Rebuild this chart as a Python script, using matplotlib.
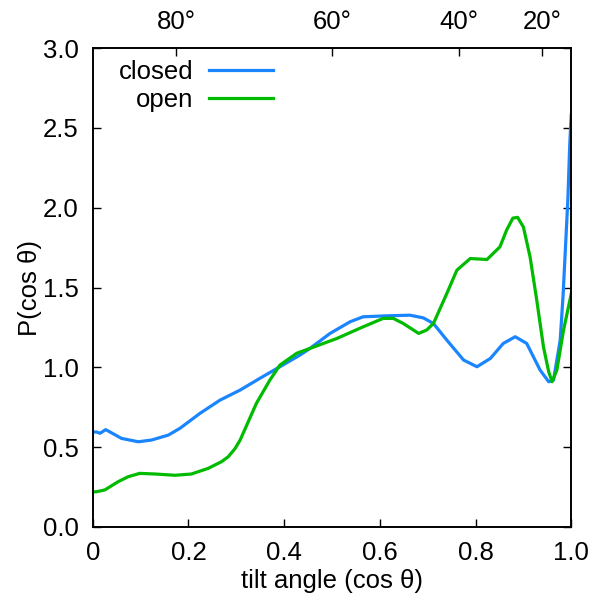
import numpy as np
import matplotlib.pyplot as plt

plt.rcParams['font.family'] = ['Liberation Sans', 'DejaVu Sans']

# closed state
x_closed = [0.0, 0.008, 0.015, 0.027, 0.039, 0.06, 0.095, 0.123, 0.158, 0.182,
            0.224, 0.266, 0.308, 0.349, 0.391, 0.433, 0.454, 0.496, 0.538, 0.565,
            0.614, 0.663, 0.691, 0.712, 0.74, 0.775, 0.803, 0.831, 0.858, 0.883,
            0.907, 0.935, 0.953, 0.963, 0.977, 0.983, 0.988, 0.993, 0.997, 1.0]
y_closed = [0.595, 0.595, 0.587, 0.61, 0.59, 0.555, 0.534, 0.545, 0.576, 0.618,
            0.712, 0.795, 0.858, 0.931, 1.004, 1.077, 1.119, 1.213, 1.286, 1.317,
            1.323, 1.327, 1.31, 1.275, 1.171, 1.046, 1.004, 1.056, 1.15, 1.192,
            1.15, 0.983, 0.91, 0.92, 1.17, 1.45, 1.75, 2.05, 2.4, 2.58]

# open state
x_open = [0.0, 0.008, 0.025, 0.053, 0.074, 0.098, 0.13, 0.172, 0.206, 0.241,
          0.269, 0.283, 0.297, 0.308, 0.325, 0.342, 0.37, 0.391, 0.426, 0.454,
          0.51, 0.565, 0.607, 0.628, 0.649, 0.681, 0.698, 0.712, 0.74, 0.761,
          0.789, 0.824, 0.851, 0.865, 0.878, 0.888, 0.9, 0.914, 0.928, 0.942,
          0.953, 0.96, 0.97, 0.984, 1.0]
y_open = [0.22, 0.221, 0.232, 0.284, 0.315, 0.336, 0.332, 0.324, 0.332, 0.367,
          0.409, 0.44, 0.49, 0.545, 0.66, 0.775, 0.92, 1.014, 1.088, 1.119,
          1.181, 1.254, 1.307, 1.307, 1.275, 1.213, 1.234, 1.275, 1.463, 1.609,
          1.682, 1.676, 1.755, 1.86, 1.935, 1.94, 1.88, 1.693, 1.421, 1.129,
          0.972, 0.91, 0.983, 1.234, 1.46]

top_deg = [80, 60, 40, 20]

fs = 18.5

fig = plt.figure(figsize=(5.95, 6.02), dpi=100)
ax = fig.add_axes([0.156, 0.1246, 0.804, 0.7954])

ax.plot(x_closed, y_closed, color='#1a85ff', lw=2.3, label='closed')
ax.plot(x_open, y_open, color='#00bb00', lw=2.3, label='open')

ax.set_xlim(0, 1)
ax.set_ylim(0, 3)
ax.set_xticks(np.arange(0, 1.01, 0.2))
ax.set_xticklabels(['0', '0.2', '0.4', '0.6', '0.8', '1.0'])
ax.set_yticks(np.arange(0, 3.01, 0.5))
ax.set_yticklabels(['%.1f' % v for v in np.arange(0, 3.01, 0.5)])
ax.tick_params(direction='in', length=6, width=1, labelsize=fs, right=True, pad=10)

top = ax.twiny()
top.set_xlim(0, 1)
top.set_xticks(np.cos(np.radians(top_deg)))
top.set_xticklabels(['%d°' % d for d in top_deg])
top.tick_params(direction='in', length=6, width=1, labelsize=fs, pad=10)

for a in (ax, top):
    for s in a.spines.values():
        s.set_linewidth(1.2)

ax.set_xlabel('tilt angle (cos θ)', fontsize=fs, labelpad=3)
ax.set_ylabel('P(cos θ)', fontsize=fs, labelpad=1)

ax.legend(loc='upper right', frameon=False, fontsize=fs, markerfirst=False,
          handlelength=2.5, handletextpad=0.6, labelspacing=0.15,
          borderpad=0, borderaxespad=0, bbox_to_anchor=(0.377, 0.975))

fig.savefig('out.png', dpi=100)
